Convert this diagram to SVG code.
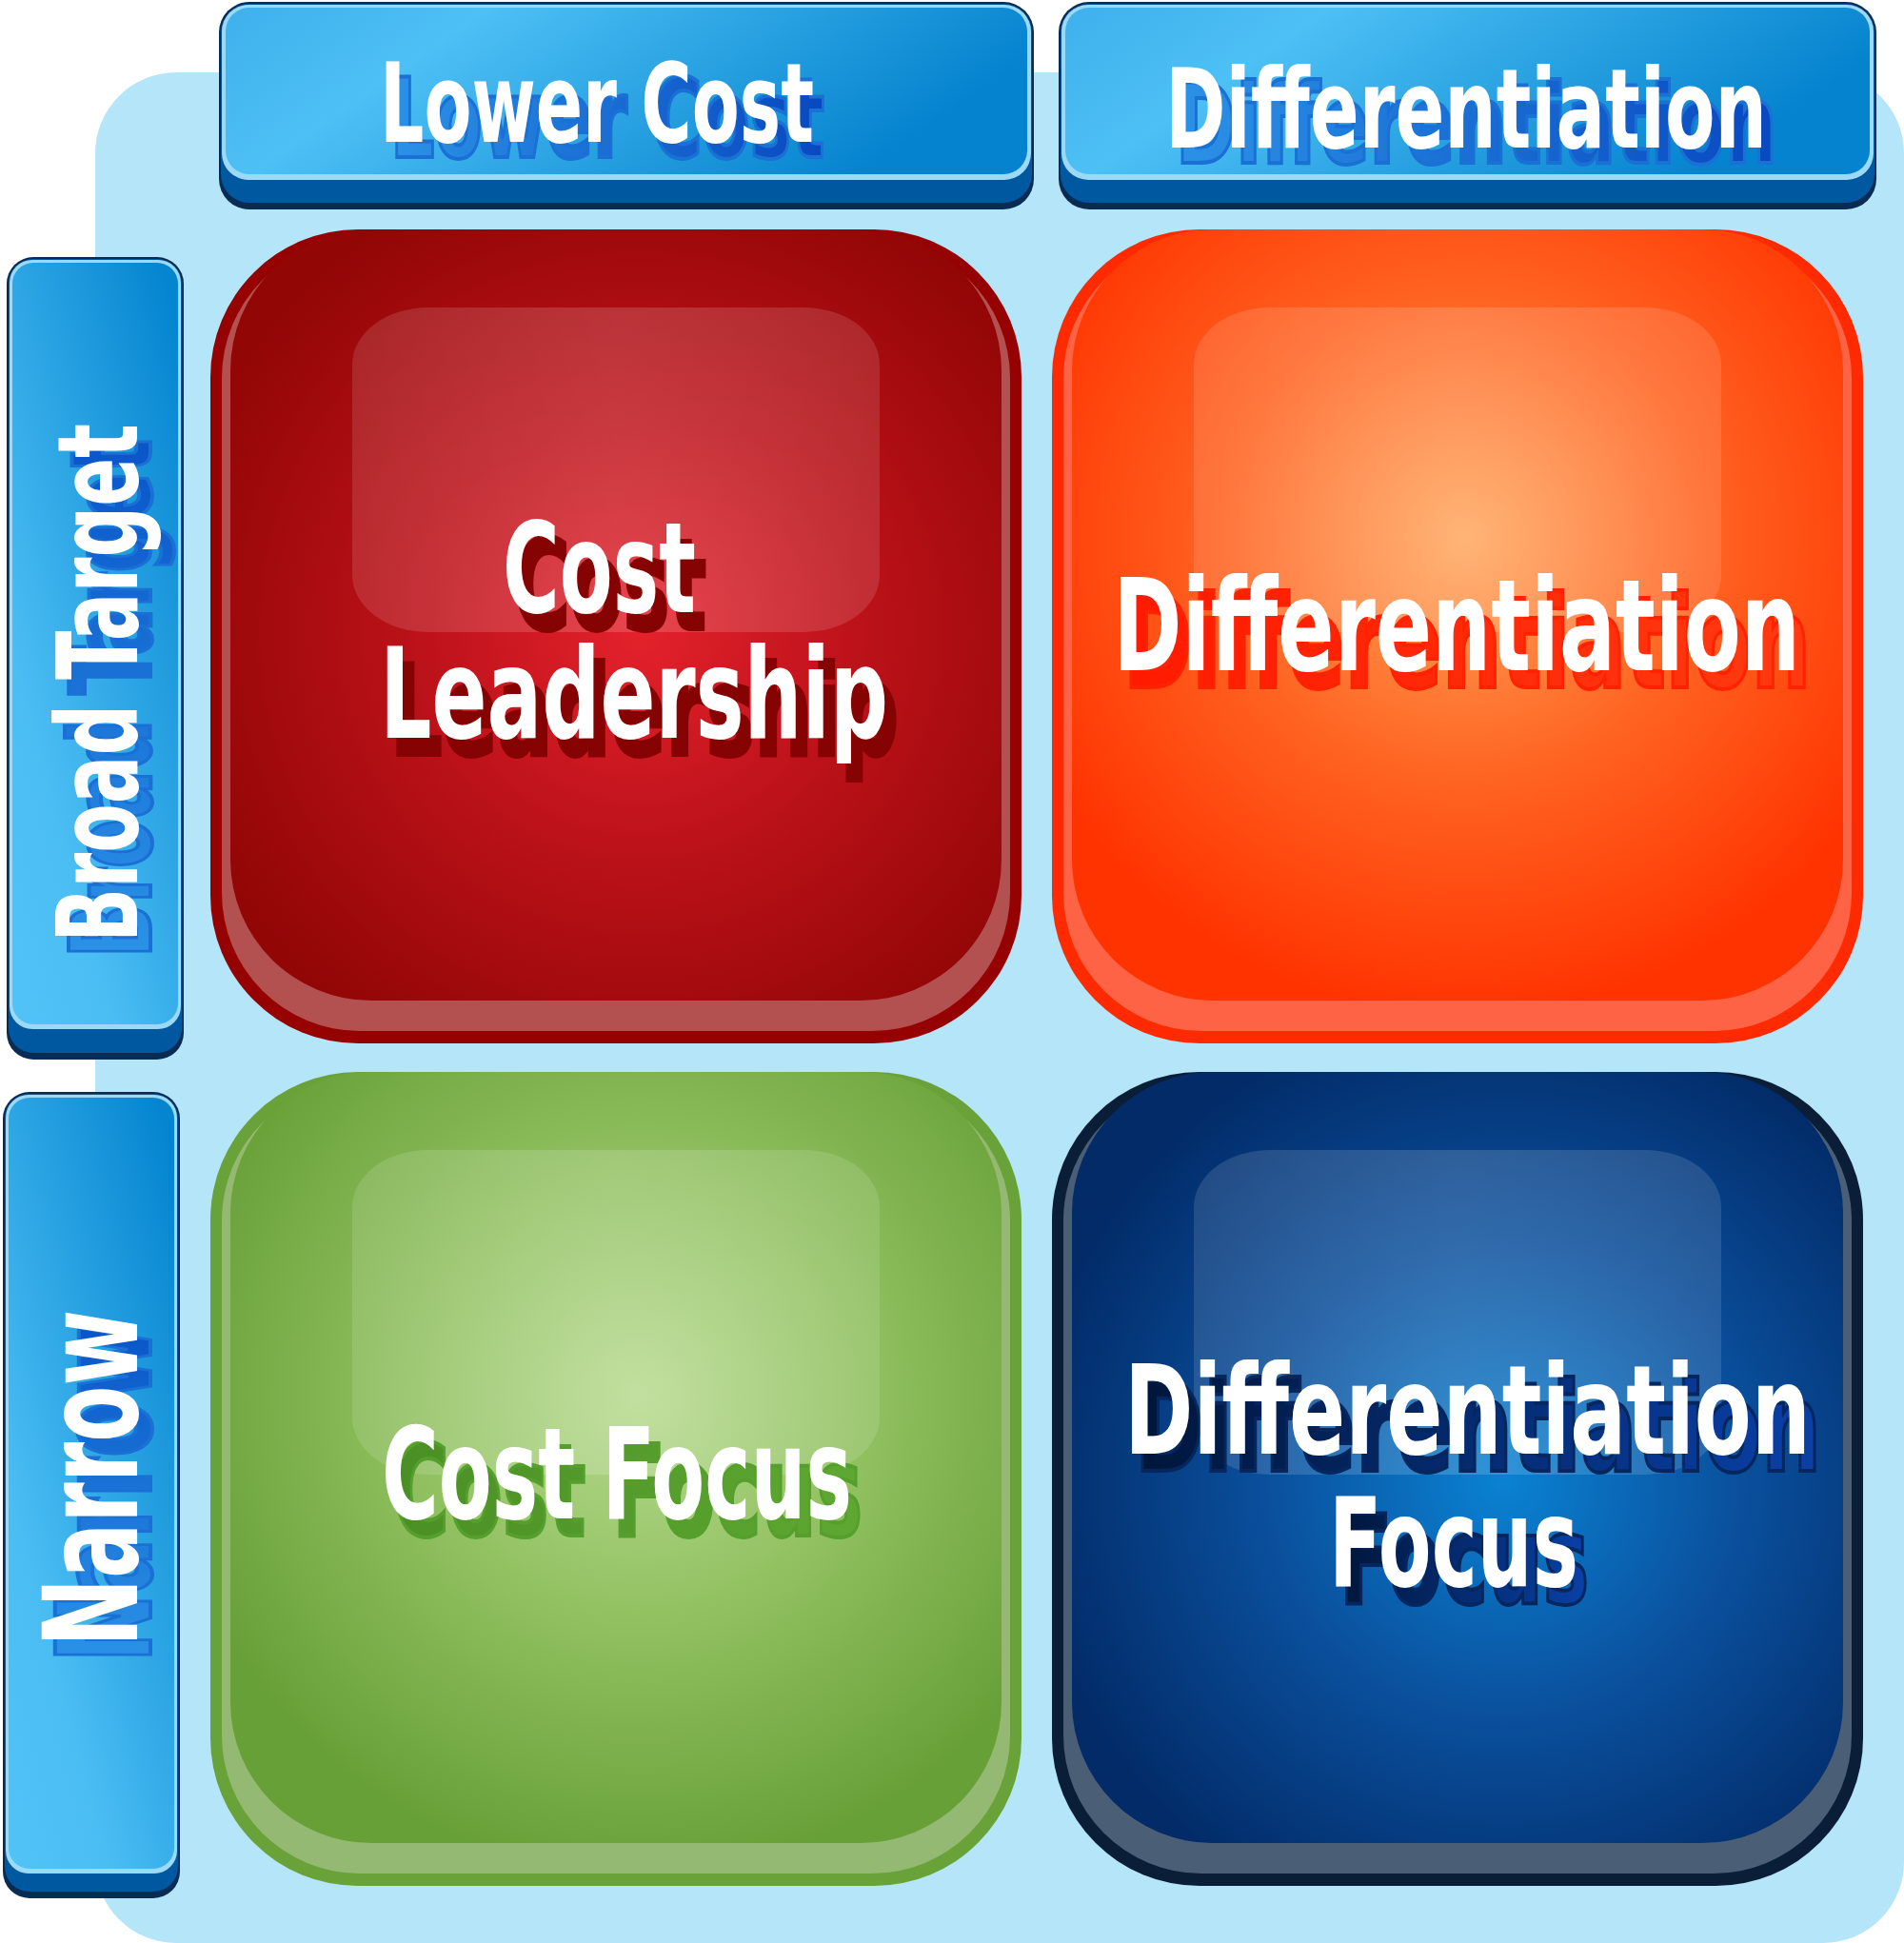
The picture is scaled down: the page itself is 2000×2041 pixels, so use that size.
<svg xmlns="http://www.w3.org/2000/svg" xmlns:xlink="http://www.w3.org/1999/xlink" width="2000" height="2041" viewBox="0 0 2000 2041">
<style>
.t{font-family:"Liberation Sans Narrow","DejaVu Sans Condensed","Liberation Sans",sans-serif;font-weight:bold;}
.w{fill:#ffffff;}
.edge{fill:#0a2c52;}
.base{fill:#0058a0;}
.rim{fill:#9bd9f7;}
.gloss{fill:url(#gloss);}
</style>
<defs>
<linearGradient id="hdr" x1="0" y1="0" x2="1" y2="0.3">
<stop offset="0" stop-color="#3eb0ec"/><stop offset="0.3" stop-color="#4dc0f5"/><stop offset="1" stop-color="#0583ce"/>
</linearGradient>
<linearGradient id="side" x1="0.9" y1="0" x2="0.1" y2="1">
<stop offset="0" stop-color="#0585d0"/><stop offset="0.75" stop-color="#4abdf3"/><stop offset="1" stop-color="#50c2f6"/>
</linearGradient>
<linearGradient id="gloss" x1="0" y1="0" x2="1" y2="0">
<stop offset="0" stop-color="#ffffff" stop-opacity="0.12"/><stop offset="0.5" stop-color="#ffffff" stop-opacity="0.16"/><stop offset="1" stop-color="#ffffff" stop-opacity="0.12"/>
</linearGradient>
<linearGradient id="shH" x1="0" y1="0" x2="1" y2="0">
<stop offset="0" stop-color="#2b92e6"/><stop offset="1" stop-color="#0848c0"/>
</linearGradient>
<linearGradient id="shV" x1="0" y1="0" x2="1" y2="0">
<stop offset="0" stop-color="#2b92e6"/><stop offset="1" stop-color="#0a55c8"/>
</linearGradient>
<radialGradient id="gRed" cx="0.53" cy="0.52" r="0.62">
<stop offset="0" stop-color="#e4222c"/><stop offset="0.45" stop-color="#bd121a"/><stop offset="1" stop-color="#920606"/>
</radialGradient>
<radialGradient id="gOr" cx="0.51" cy="0.4" r="0.62">
<stop offset="0" stop-color="#ffa65c"/><stop offset="0.5" stop-color="#ff6422"/><stop offset="1" stop-color="#ff3300"/>
</radialGradient>
<radialGradient id="gGr" cx="0.53" cy="0.42" r="0.62">
<stop offset="0" stop-color="#b6da8e"/><stop offset="0.5" stop-color="#8fbf5e"/><stop offset="1" stop-color="#68a038"/>
</radialGradient>
<radialGradient id="gBl" cx="0.56" cy="0.53" r="0.62">
<stop offset="0" stop-color="#0a82d2"/><stop offset="0.5" stop-color="#0a4f9c"/><stop offset="1" stop-color="#022b68"/>
</radialGradient>
<linearGradient id="shOr" x1="0" y1="0" x2="1" y2="0">
<stop offset="0" stop-color="#ff1a00"/><stop offset="1" stop-color="#ff3a10"/>
</linearGradient>
<linearGradient id="shGr" x1="0" y1="0" x2="1" y2="0">
<stop offset="0" stop-color="#4a8f25"/><stop offset="1" stop-color="#5ea832"/>
</linearGradient>
<linearGradient id="shBl" x1="0" y1="0" x2="1" y2="0">
<stop offset="0" stop-color="#00163a"/><stop offset="1" stop-color="#0a40a8"/>
</linearGradient>
</defs>

<rect id="panel" x="100" y="76" width="1900" height="1965" rx="85" fill="#b5e5f9"/>

<g id="hdr-lower-cost">
<rect class="edge" x="230" y="2" width="856" height="218" rx="32"/>
<rect class="base" x="232" y="4" width="852" height="209" rx="30"/>
<rect class="rim" x="233" y="5" width="850" height="184" rx="28"/>
<rect x="237" y="8" width="842" height="175" rx="25" fill="url(#hdr)"/>
<text class="t" x="410" y="165" font-size="115" textLength="456" lengthAdjust="spacingAndGlyphs" fill="url(#shH)" stroke="#1a70d4" stroke-width="4">Lower Cost</text>
<text class="t w" x="399" y="149" font-size="115" textLength="456" lengthAdjust="spacingAndGlyphs">Lower Cost</text>
</g>

<g id="hdr-differentiation">
<rect class="edge" x="1112" y="2" width="859" height="218" rx="32"/>
<rect class="base" x="1114" y="4" width="855" height="209" rx="30"/>
<rect class="rim" x="1115" y="5" width="853" height="184" rx="28"/>
<rect x="1119" y="8" width="845" height="175" rx="25" fill="url(#hdr)"/>
<text class="t" x="1235" y="171" font-size="116" textLength="632" lengthAdjust="spacingAndGlyphs" fill="url(#shH)" stroke="#1a70d4" stroke-width="4">Differentiation</text>
<text class="t w" x="1224" y="155" font-size="116" textLength="632" lengthAdjust="spacingAndGlyphs">Differentiation</text>
</g>

<g id="side-broad-target">
<rect class="edge" x="7" y="270" width="186" height="843" rx="28"/>
<rect class="base" x="9" y="272" width="182" height="834" rx="26"/>
<rect class="rim" x="10" y="273" width="180" height="808" rx="24"/>
<rect x="13" y="276" width="174" height="800" rx="22" fill="url(#side)"/>
<text class="t" transform="translate(158,1006) rotate(-90)" font-size="117" textLength="545" lengthAdjust="spacingAndGlyphs" fill="url(#shV)" stroke="#1a70d4" stroke-width="4">Broad Target</text>
<text class="t w" transform="translate(144,990) rotate(-90)" font-size="117" textLength="545" lengthAdjust="spacingAndGlyphs">Broad Target</text>
</g>

<g id="side-narrow">
<rect class="edge" x="3" y="1147" width="186" height="847" rx="28"/>
<rect class="base" x="5" y="1149" width="182" height="838" rx="26"/>
<rect class="rim" x="6" y="1150" width="180" height="818" rx="24"/>
<rect x="9" y="1153" width="174" height="810" rx="22" fill="url(#side)"/>
<text class="t" transform="translate(158,1746) rotate(-90)" font-size="137" textLength="354" lengthAdjust="spacingAndGlyphs" fill="url(#shV)" stroke="#1a70d4" stroke-width="4">Narrow</text>
<text class="t w" transform="translate(144,1730) rotate(-90)" font-size="137" textLength="354" lengthAdjust="spacingAndGlyphs">Narrow</text>
</g>

<g id="q-cost-leadership">
<rect x="221" y="241" width="852" height="855" rx="155" fill="#960202"/>
<rect x="233" y="252" width="828" height="831" rx="145" fill="#b35151"/>
<rect x="242" y="241" width="810" height="810" rx="148" fill="url(#gRed)"/>
<rect class="gloss" x="370" y="323" width="554" height="341" rx="80" ry="60"/>
<text class="t" x="539" y="661" font-size="131" textLength="203" lengthAdjust="spacingAndGlyphs" fill="#860303" stroke="#860303" stroke-width="4">Cost</text>
<text class="t w" x="528" y="643" font-size="131" textLength="203" lengthAdjust="spacingAndGlyphs">Cost</text>
<text class="t" x="410" y="793" font-size="131" textLength="534" lengthAdjust="spacingAndGlyphs" fill="#860303" stroke="#860303" stroke-width="4">Leadership</text>
<text class="t w" x="399" y="775" font-size="131" textLength="534" lengthAdjust="spacingAndGlyphs">Leadership</text>
</g>

<g id="q-differentiation">
<rect x="1105" y="241" width="852" height="855" rx="155" fill="#ff2a00"/>
<rect x="1117" y="252" width="828" height="831" rx="145" fill="#ff6346"/>
<rect x="1126" y="241" width="810" height="810" rx="148" fill="url(#gOr)"/>
<rect class="gloss" x="1254" y="323" width="554" height="341" rx="80" ry="60"/>
<text class="t" x="1180" y="722" font-size="133" textLength="722" lengthAdjust="spacingAndGlyphs" fill="url(#shOr)" stroke="#ff2200" stroke-width="4">Differentiation</text>
<text class="t w" x="1169" y="704" font-size="133" textLength="722" lengthAdjust="spacingAndGlyphs">Differentiation</text>
</g>

<g id="q-cost-focus">
<rect x="221" y="1126" width="852" height="855" rx="155" fill="#6aa23a"/>
<rect x="233" y="1137" width="828" height="831" rx="145" fill="#94b972"/>
<rect x="242" y="1126" width="810" height="810" rx="148" fill="url(#gGr)"/>
<rect class="gloss" x="370" y="1208" width="554" height="341" rx="80" ry="60"/>
<text class="t" x="412" y="1613" font-size="134" textLength="494" lengthAdjust="spacingAndGlyphs" fill="url(#shGr)" stroke="#55a02c" stroke-width="4">Cost Focus</text>
<text class="t w" x="401" y="1595" font-size="134" textLength="494" lengthAdjust="spacingAndGlyphs">Cost Focus</text>
</g>

<g id="q-differentiation-focus">
<rect x="1105" y="1126" width="852" height="855" rx="155" fill="#0a1e38"/>
<rect x="1117" y="1137" width="828" height="831" rx="145" fill="#4a5e76"/>
<rect x="1126" y="1126" width="810" height="810" rx="148" fill="url(#gBl)"/>
<rect class="gloss" x="1254" y="1208" width="554" height="341" rx="80" ry="60"/>
<text class="t" x="1192" y="1545" font-size="130" textLength="721" lengthAdjust="spacingAndGlyphs" fill="url(#shBl)" stroke="#06265e" stroke-width="4">Differentiation</text>
<text class="t w" x="1181" y="1527" font-size="130" textLength="721" lengthAdjust="spacingAndGlyphs">Differentiation</text>
<text class="t" x="1407" y="1684" font-size="130" textLength="262" lengthAdjust="spacingAndGlyphs" fill="url(#shBl)" stroke="#06265e" stroke-width="4">Focus</text>
<text class="t w" x="1396" y="1666" font-size="130" textLength="262" lengthAdjust="spacingAndGlyphs">Focus</text>
</g>

<g id="connectors"></g>
</svg>
